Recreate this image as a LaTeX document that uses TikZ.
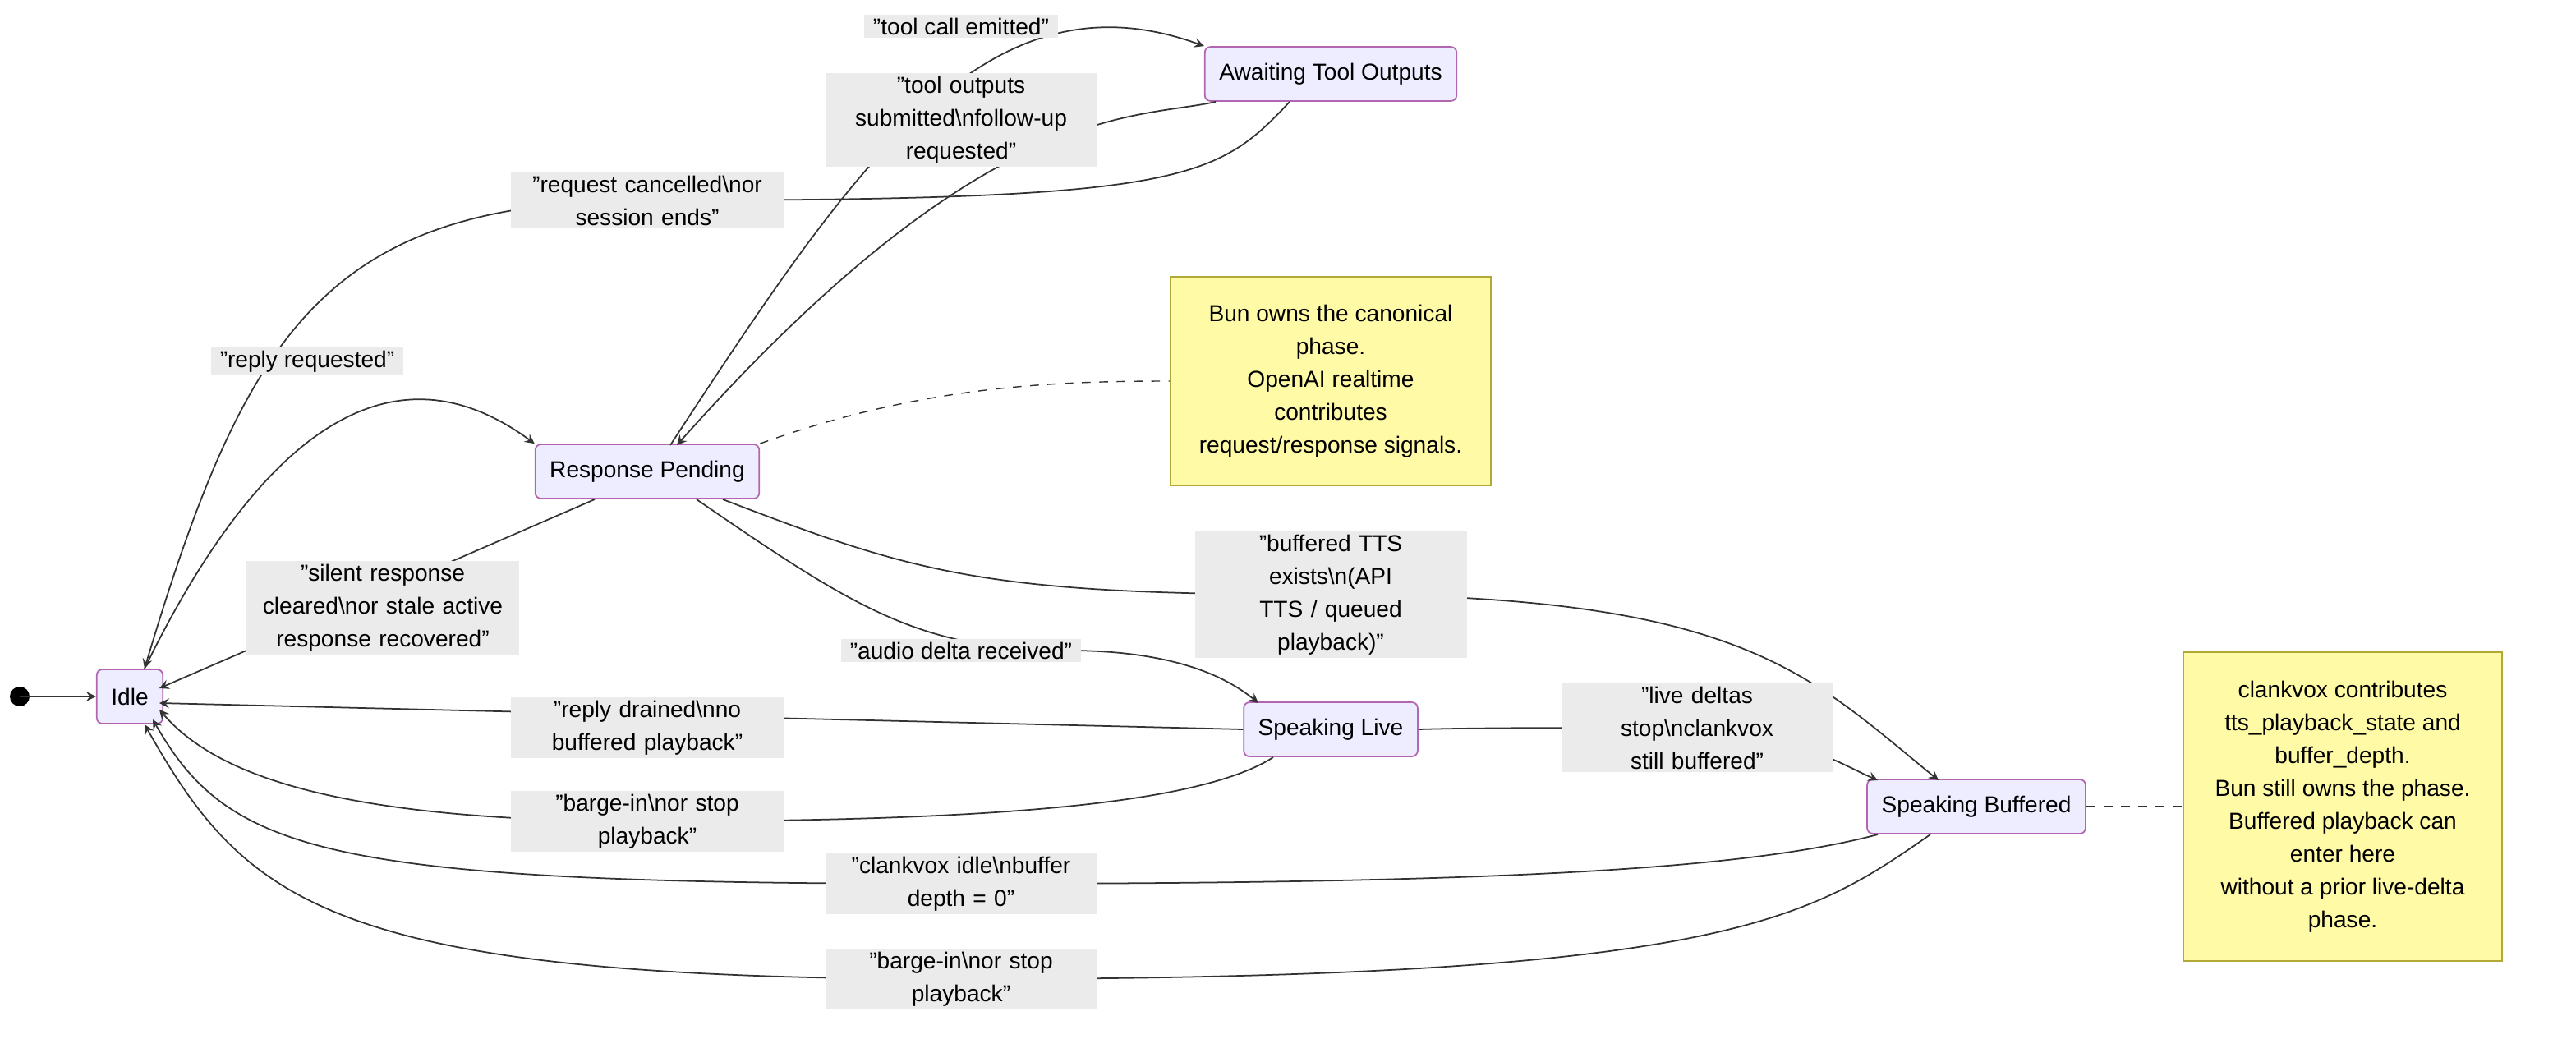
\documentclass[tikz,border=0pt]{standalone}
\usepackage{fontspec}
\setmainfont{Liberation Sans}
\newcommand{\bsl}{\textbackslash}
\tikzset{
  state/.style={draw=violet!60, fill=blue!7, rounded corners=2pt, line width=0.5pt,
    minimum height=0.66cm, inner xsep=5pt, font=\fontsize{8}{10}\selectfont},
  note/.style={draw=olive!70, fill=yellow!35, line width=0.5pt, align=center,
    font=\fontsize{8}{11.4}\selectfont},
  lbl/.style={fill=black!8, align=center, inner xsep=3pt, inner ysep=1pt,
    font=\fontsize{8}{11.4}\selectfont},
  tr/.style={->, >=stealth, black!80, line width=0.5pt},
}
\begin{document}
\begin{tikzpicture}[x=0.02cm, y=-0.02cm]
\useasboundingbox (0,0) rectangle (1568,632);

\fill (12,424) circle (6) coordinate (start);
\node[state] (idle) at (79,424) {Idle};
\node[state] (rp) at (394,287) {Response Pending};
\node[state] (await) at (810,45) {Awaiting Tool Outputs};
\node[state] (live) at (810,444) {Speaking Live};
\node[state] (buf) at (1203,491) {Speaking Buffered};

\node[note, minimum width=3.9cm, minimum height=2.54cm] (n1) at (810,232)
  {Bun owns the canonical\\phase.\\OpenAI realtime\\contributes\\request/response signals.};
\node[note, minimum width=3.88cm, minimum height=3.76cm] (n2) at (1426,491)
  {clankvox contributes\\tts\_playback\_state and\\buffer\_depth.\\Bun still owns the phase.\\Buffered playback can\\enter here\\without a prior live-delta\\phase.};

% transitions
\draw[tr] (start) -- (idle);
\draw[tr] (88,407) .. controls (150,280) and (230,200) .. (rp.north west);
\draw[tr] (362,304) -- (97,419);
\draw[tr] (408,271) .. controls (520,100) and (600,-20) .. (await.north west);
\draw[tr] (740,62) .. controls (690,73) and (600,60) .. (412,271);
\draw[tr] (785,62) .. controls (740,110) and (720,122) .. (394,122)
  .. controls (200,122) and (150,200) .. (88,407);
\draw[tr] (424,304) .. controls (520,370) and (560,396) .. (650,396)
  .. controls (720,396) and (750,415) .. (766,428);
\draw[tr] (440,304) .. controls (560,350) and (600,362) .. (810,362)
  .. controls (1060,362) and (1100,410) .. (1180,475);
\draw[tr] (live.west) -- (97,428);
\draw[tr] (live.east) .. controls (900,443) and (950,443) .. (1033,443)
  .. controls (1100,450) and (1120,465) .. (1143,475);
\draw[tr] (775,461) .. controls (730,490) and (600,500) .. (394,500)
  .. controls (200,500) and (130,470) .. (97,432);
\draw[tr] (1143,508) .. controls (1060,530) and (900,538) .. (585,538)
  .. controls (200,538) and (140,520) .. (93,438);
\draw[tr] (1175,508) .. controls (1100,560) and (1050,596) .. (585,596)
  .. controls (200,596) and (150,550) .. (88,441);

\draw[dashed, black!80] (rp.north east) .. controls (560,235) and (640,232) .. (n1.west);
\draw[dashed, black!80] (buf.east) -- (n2.west);

% labels
\node[lbl] (l1) at (585,16) {"tool call emitted"};
\node[lbl, text width=3.1cm] (l2) at (585,73) {"tool outputs\\submitted\bsl nfollow-up\\requested"};
\node[lbl, text width=3.1cm] (l3) at (394,122) {"request cancelled\bsl nor\\session ends"};
\node[lbl] (l4) at (187,220) {"reply requested"};
\node[lbl, text width=3.1cm] (l5) at (233,370) {"silent response\\cleared\bsl nor stale active\\response recovered"};
\node[lbl, text width=3.1cm] (l6) at (810,362) {"buffered TTS exists\bsl n(API\\TTS / queued playback)"};
\node[lbl] (l7) at (585,396) {"audio delta received"};
\node[lbl, text width=3.1cm] (l8) at (394,443) {"reply drained\bsl nno\\buffered playback"};
\node[lbl, text width=3.1cm] (l9) at (1033,443) {"live deltas stop\bsl nclankvox\\still buffered"};
\node[lbl, text width=3.1cm] (l10) at (394,500) {"barge-in\bsl nor stop\\playback"};
\node[lbl, text width=3.1cm] (l11) at (585,538) {"clankvox idle\bsl nbuffer\\depth = 0"};
\node[lbl, text width=3.1cm] (l12) at (585,596) {"barge-in\bsl nor stop\\playback"};
\end{tikzpicture}
\end{document}
